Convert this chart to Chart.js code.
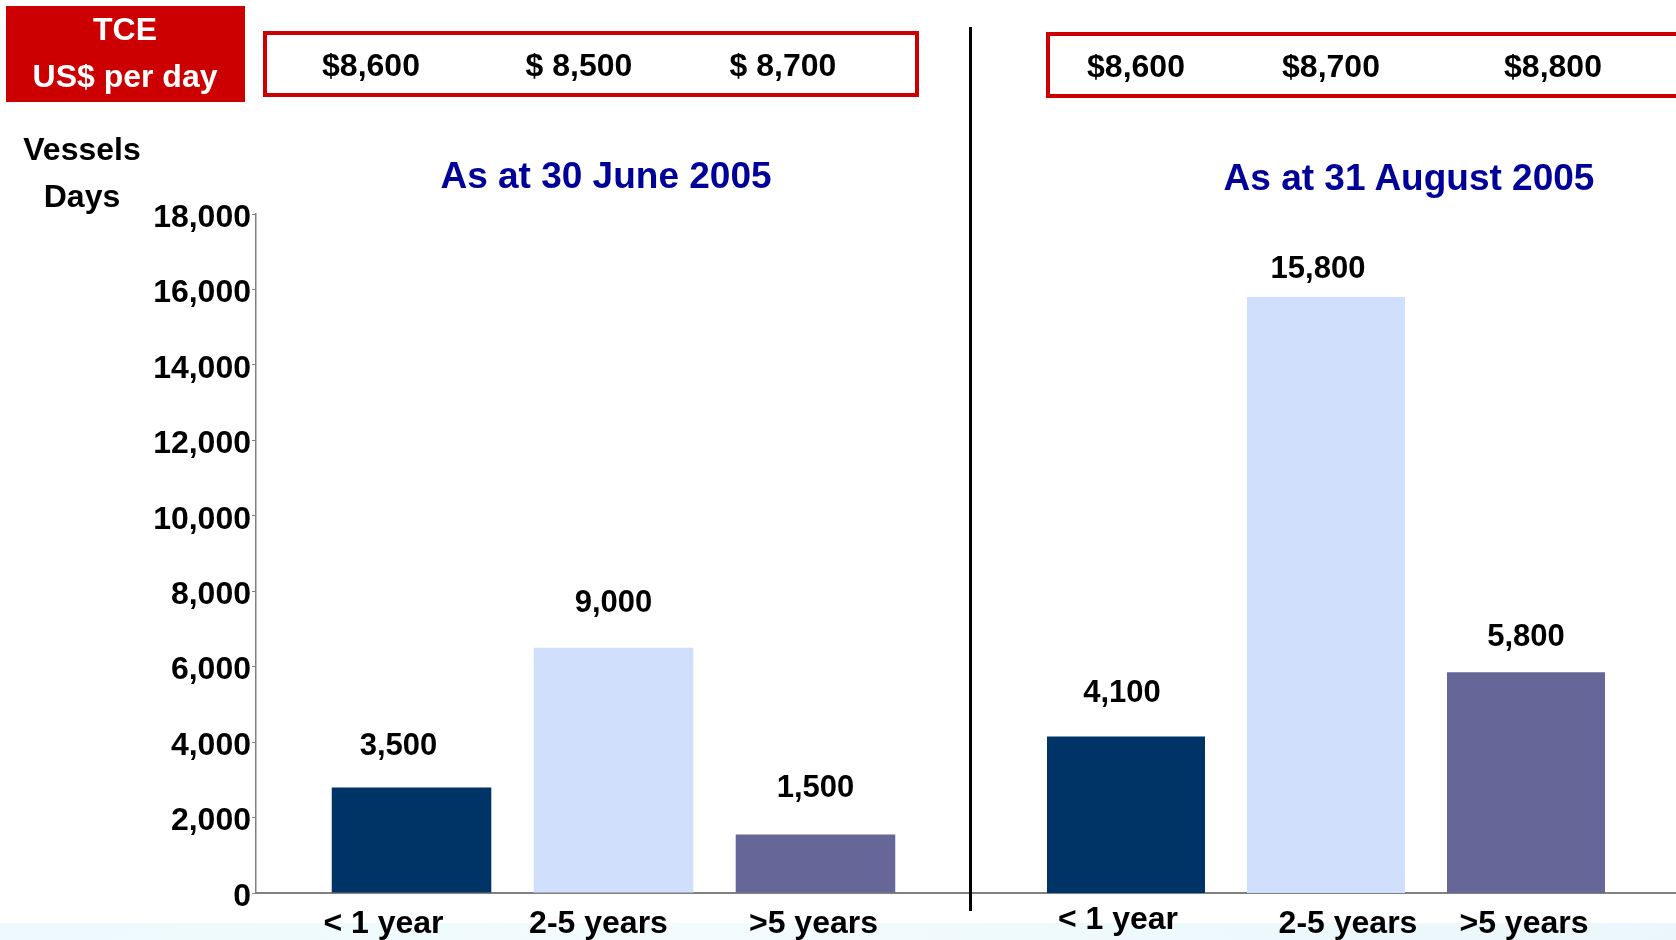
<!DOCTYPE html>
<html>
<head>
<meta charset="utf-8">
<script src="https://cdn.jsdelivr.net/npm/chart.js@4.4.1/dist/chart.umd.min.js"></script>
<style>
html,body{margin:0;padding:0;width:1676px;height:940px;overflow:hidden;background:#fff;font-family:"Liberation Sans",Arial,sans-serif;}
.t{position:absolute;transform:translate(-50%,-50%);white-space:nowrap;font-weight:bold;font-size:32px;color:#000;line-height:1;}
.title{color:#000099;font-size:37px;}
.white{color:#fff;font-size:32px;}
canvas{position:absolute;left:0;top:0;}
#band{position:absolute;left:0;top:923px;width:1676px;height:17px;background:linear-gradient(to right,#edf9fc,#f2fcfe 40%,#eaf6fb);}
#tceBox{position:absolute;left:6px;top:6px;width:239px;height:96px;background:#cc0000;}
.redBox{position:absolute;border:4px solid #cc0000;box-sizing:border-box;}
#divider{position:absolute;left:969px;top:27px;width:3px;height:884px;background:#000;}
</style>
</head>
<body>
<div id="band"></div>
<div id="tceBox"></div>
<div class="redBox" style="left:263px;top:31px;width:656px;height:66px;"></div>
<div class="redBox" style="left:1046px;top:32px;width:660px;height:66px;"></div>
<canvas id="left" width="1676" height="940"></canvas>
<canvas id="right" width="1676" height="940"></canvas>
<div id="divider"></div>
<div id="texts"></div>
<script>
// ---- data ----
const categories = ['< 1 year', '2-5 years', '>5 years'];
const june2005Days = [2800, 6500, 1550];
const june2005Labels = ['3,500', '9,000', '1,500'];
const aug2005Days = [4150, 15800, 5850];
const aug2005Labels = ['4,100', '15,800', '5,800'];
const yTicks = [0, 2000, 4000, 6000, 8000, 10000, 12000, 14000, 16000, 18000];
const june2005Tce = ['$8,600', '$ 8,500', '$ 8,700'];
const aug2005Tce = ['$8,600', '$8,700', '$8,800'];
const panelTitles = ['As at 30 June 2005', 'As at 31 August 2005'];
const headerLines = ['TCE', 'US$ per day'];
const axisTitleLines = ['Vessels', 'Days'];
const barColors = ['#003366', '#d0dffb', '#666699'];

// ---- html texts ----
const texts = document.getElementById('texts');
function addText(str, x, y, cls) {
  const d = document.createElement('div');
  d.className = 't' + (cls ? ' ' + cls : '');
  d.style.left = x + 'px';
  d.style.top = y + 'px';
  d.textContent = str;
  texts.appendChild(d);
}
const headerPos = [[125, 29], [125, 76]];
headerLines.forEach((s, i) => addText(s, headerPos[i][0], headerPos[i][1], 'white'));
const axisTitlePos = [[82, 149], [82, 196]];
axisTitleLines.forEach((s, i) => addText(s, axisTitlePos[i][0], axisTitlePos[i][1]));
const juneTceX = [371, 579, 783];
june2005Tce.forEach((s, i) => addText(s, juneTceX[i], 65));
const augTceX = [1136, 1331, 1553];
aug2005Tce.forEach((s, i) => addText(s, augTceX[i], 66));
addText(panelTitles[0], 606, 175, 'title');
addText(panelTitles[1], 1409, 177, 'title');

// ---- charts ----
const FONT = { family: '"Liberation Sans", Arial, sans-serif', size: 32, weight: 'bold' };

const valueLabelPlugin = {
  id: 'valueLabels',
  afterDatasetsDraw(chart, args, opts) {
    const meta = chart.getDatasetMeta(0);
    const ctx = chart.ctx;
    ctx.save();
    ctx.font = 'bold 31px "Liberation Sans", Arial, sans-serif';
    ctx.fillStyle = '#000';
    ctx.textAlign = 'center';
    ctx.textBaseline = 'middle';
    meta.data.forEach((bar, i) => {
      const n = opts.nudge[i];
      ctx.fillText(opts.labels[i], bar.x + n[0], bar.y - n[1]);
    });
    ctx.restore();
  }
};

// category labels under the x axis, placed through the x scale
const categoryLabelPlugin = {
  id: 'categoryLabels',
  afterDraw(chart, args, opts) {
    const xs = chart.scales.x;
    const ctx = chart.ctx;
    ctx.save();
    ctx.font = 'bold 32px "Liberation Sans", Arial, sans-serif';
    ctx.fillStyle = '#000';
    ctx.textAlign = 'center';
    ctx.textBaseline = 'middle';
    categories.forEach((c, i) => {
      const n = opts.nudge[i];
      ctx.fillText(c, xs.getPixelForValue(i) + n[0], xs.top + 31 + n[1]);
    });
    ctx.restore();
  }
};

function makeChart(id, values, labels, nudge, catNudge, showY, padLeft, padRight, xMin, xMax) {
  return new Chart(document.getElementById(id), {
    type: 'bar',
    data: {
      datasets: [{
        data: values.map((v, i) => ({ x: i, y: v })),
        backgroundColor: barColors,
        borderWidth: 0,
        barPercentage: 0.79,
        categoryPercentage: 1
      }]
    },
    options: {
      responsive: false,
      animation: false,
      devicePixelRatio: 1,
      layout: { padding: { top: 214, left: padLeft, right: padRight, bottom: 0 } },
      plugins: {
        legend: { display: false },
        tooltip: { enabled: false },
        valueLabels: { labels: labels, nudge: nudge },
        categoryLabels: { nudge: catNudge }
      },
      scales: {
        x: {
          type: 'linear',
          offset: false,
          bounds: 'data',
          min: xMin,
          max: xMax,
          afterBuildTicks: s => { s.ticks = categories.map((c, i) => ({ value: i })); },
          afterFit: s => { s.height = 47; },
          ticks: { display: false, includeBounds: false },
          grid: { offset: false, drawOnChartArea: false, drawTicks: false },
          border: { color: '#808080', width: 2 }
        },
        y: {
          display: showY,
          min: 0,
          max: 18000,
          afterBuildTicks: s => { s.ticks = yTicks.map(v => ({ value: v })); },
          afterFit: s => { if (showY) s.width = 256; },
          ticks: {
            callback: v => v.toLocaleString('en-US'),
            font: FONT,
            color: '#000',
            padding: 1,
            labelOffset: 4
          },
          grid: { drawOnChartArea: false, tickLength: 4, color: '#808080' },
          border: { color: '#808080', width: 1.5 }
        }
      }
    },
    plugins: [valueLabelPlugin, categoryLabelPlugin]
  });
}

makeChart('left', june2005Days, june2005Labels, [[-13, 41], [0, 44], [0, 46]],
  [[-28, 0], [-15, 0], [-2, 0]], true, 0, 1676 - 971, -0.77, 2.77);
makeChart('right', aug2005Days, aug2005Labels, [[-4, 43], [-8, 28], [0, 35]],
  [[-8, -4], [22, 0], [-2, 0]], false, 971, 0, -0.775, 2.75);
</script>
</body>
</html>
